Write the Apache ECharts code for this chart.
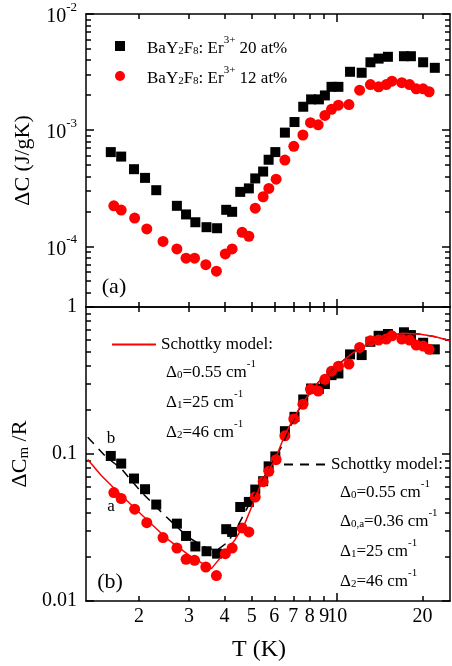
<!DOCTYPE html>
<html>
<head>
<meta charset="utf-8">
<script src="https://cdn.jsdelivr.net/npm/echarts@6/dist/echarts.min.js"></script>
<style>
  html, body { margin: 0; padding: 0; background: #fff; }
  #chart { width: 452px; height: 666px; }
</style>
</head>
<body>
<div id="chart"></div>
<script>
// Excess heat capacity of BaY2F8:Er3+ crystals, (a) per gram, (b) molar, with Schottky fits

// Temperatures (K), 20 at% sample
const T20 = [1.59, 1.73, 1.92, 2.10, 2.30, 2.72, 2.93, 3.16, 3.46, 3.77, 4.06, 4.26, 4.55, 4.88, 5.14, 5.48, 5.73, 6.05,
  6.54, 7.07, 7.59, 8.09, 8.62, 9.05, 9.55, 10.1, 11.1, 12.2, 13.1, 14.0, 15.1, 17.2, 18.2, 20.1, 22.1];
// ΔC (J/gK), 20 at%
const dC20 = [6.47e-4, 5.92e-4, 4.61e-4, 3.88e-4, 3.04e-4, 2.23e-4, 1.88e-4, 1.61e-4, 1.46e-4, 1.43e-4, 2.06e-4, 1.98e-4,
  2.94e-4, 3.15e-4, 3.84e-4, 4.40e-4, 5.56e-4, 6.47e-4, 9.52e-4, 1.174e-3, 1.59e-3, 1.84e-3, 1.84e-3, 1.99e-3, 2.36e-3,
  2.36e-3, 3.18e-3, 3.12e-3, 3.84e-3, 4.13e-3, 4.28e-3, 4.33e-3, 4.33e-3, 3.84e-3, 3.44e-3];
// ΔCm/R, 20 at%
const dCm20 = [0.0970, 0.0861, 0.0681, 0.0576, 0.0453, 0.0336, 0.0277, 0.0235, 0.0218, 0.0210, 0.0308, 0.0295, 0.0436,
  0.0472, 0.0573, 0.0653, 0.0824, 0.0963, 0.143, 0.179, 0.235, 0.279, 0.278, 0.299, 0.344, 0.353, 0.476, 0.471, 0.580,
  0.637, 0.655, 0.673, 0.644, 0.571, 0.515];

// Temperatures (K), 12 at% sample
const T12 = [1.63, 1.73, 1.93, 2.13, 2.43, 2.72, 2.93, 3.14, 3.44, 3.75, 4.03, 4.26, 4.62, 4.88, 5.14, 5.48, 5.74, 6.09,
  6.54, 7.03, 7.57, 8.05, 8.57, 9.05, 9.55, 10.1, 11.0, 12.0, 13.1, 14.0, 14.9, 15.6, 16.9, 18.0, 19.0, 20.1, 21.1];
// ΔC (J/gK), 12 at%
const dC12 = [2.23e-4, 2.05e-4, 1.75e-4, 1.41e-4, 1.10e-4, 9.48e-5, 7.89e-5, 7.89e-5, 6.95e-5, 6.10e-5, 8.59e-5, 9.48e-5,
  1.32e-4, 1.22e-4, 2.13e-4, 2.67e-4, 3.15e-4, 3.78e-4, 5.53e-4, 7.26e-4, 9.08e-4, 1.16e-3, 1.11e-3, 1.34e-3, 1.51e-3,
  1.64e-3, 1.66e-3, 2.21e-3, 2.47e-3, 2.36e-3, 2.47e-3, 2.64e-3, 2.56e-3, 2.47e-3, 2.27e-3, 2.27e-3, 2.14e-3];
// ΔCm/R, 12 at%
const dCm12 = [0.0547, 0.0498, 0.0421, 0.0341, 0.0270, 0.0229, 0.0192, 0.0189, 0.0170, 0.0149, 0.0210, 0.0229, 0.0314,
  0.0295, 0.0510, 0.0648, 0.0763, 0.0915, 0.133, 0.173, 0.218, 0.276, 0.268, 0.322, 0.366, 0.396, 0.409, 0.531, 0.589,
  0.596, 0.605, 0.637, 0.605, 0.596, 0.551, 0.542, 0.515];

// Schottky model curve a (solid red)
const fitAT = [1.318, 1.469, 1.66, 2.0, 2.5, 3.0, 3.3, 3.6, 4.35, 4.72, 5.05, 5.40, 6.03, 6.57, 7.52, 8.62, 9.86, 11.3,
  12.95, 14.82, 16.97, 19.44, 22.2, 25];
const fitAV = [0.0918, 0.0717, 0.0567, 0.0402, 0.0267, 0.0205, 0.0183, 0.0166, 0.0259, 0.0336, 0.0461, 0.0635, 0.0914,
  0.138, 0.221, 0.310, 0.392, 0.484, 0.566, 0.628, 0.662, 0.655, 0.628, 0.590];
// Schottky model curve b (dashed black)
const fitBT = [1.318, 1.53, 1.729, 2.035, 2.461, 2.976, 3.408, 3.74, 4.12, 4.47, 4.98, 5.70, 6.36, 6.9, 7.52, 8.62, 9.86,
  11.3, 12.95, 14.82, 16.97, 19.44, 22.2, 25];
const fitBV = [0.130, 0.0955, 0.0797, 0.0552, 0.0383, 0.0272, 0.0233, 0.0220, 0.0252, 0.0327, 0.0485, 0.0776, 0.1117,
  0.160, 0.221, 0.310, 0.392, 0.484, 0.566, 0.628, 0.662, 0.655, 0.628, 0.590];

// Axis ticks and labels
const X_MIN = 1.3, X_MAX = 25;
const xMajorTicks = [10];
const xMinorTicks = [2, 3, 4, 5, 6, 7, 8, 9, 20];
const xTickLabels = [2, 3, 4, 5, 6, 7, 8, 9, 10, 20];
const yaMin = 3e-5, yaMax = 1e-2;
const yaMajorTicks = [1e-4, 1e-3, 1e-2];
const yaMinorTicks = [4e-5, 5e-5, 6e-5, 7e-5, 8e-5, 9e-5, 2e-4, 3e-4, 4e-4, 5e-4, 6e-4, 7e-4, 8e-4, 9e-4,
  2e-3, 3e-3, 4e-3, 5e-3, 6e-3, 7e-3, 8e-3, 9e-3];
const ybMin = 0.01, ybMax = 1;
const ybMajorTicks = [0.01, 0.1, 1];
const ybMinorTicks = [0.02, 0.03, 0.04, 0.05, 0.06, 0.07, 0.08, 0.09, 0.2, 0.3, 0.4, 0.5, 0.6, 0.7, 0.8, 0.9];

const NAME20 = 'BaY2F8: Er3+ 20 at%';
const NAME12 = 'BaY2F8: Er3+ 12 at%';
const NAME_FIT_A = 'Schottky model a';
const NAME_FIT_B = 'Schottky model b';

const FONT = '"Liberation Serif", "Times New Roman", serif';
const RED = '#ff0000';
const zip = (xs, ys) => xs.map((x, i) => [x, ys[i]]);

const richText = {
  gap: { width: 17, fontSize: 17, lineHeight: 22 },
  n: { fontFamily: FONT, fontSize: 17, lineHeight: 22, color: '#000', verticalAlign: 'bottom' },
  sub: { fontFamily: FONT, fontSize: 11, lineHeight: 11, color: '#000', verticalAlign: 'bottom' },
  sup: { fontFamily: FONT, fontSize: 11, lineHeight: 11, color: '#000', verticalAlign: 'top' }
};

function logAxis(grid, position, min, max, ticks, len, extra) {
  return Object.assign({
    type: 'log', logBase: 10, gridIndex: grid, position: position, min: min, max: max,
    splitLine: { show: false },
    axisLine: { show: true, onZero: false, lineStyle: { color: '#000', width: 1.5 } },
    axisTick: { show: true, inside: true, length: len, customValues: ticks, lineStyle: { color: '#000', width: 1.5 } },
    axisLabel: { show: false },
    silent: true
  }, extra || {});
}
const noLine = { axisLine: { show: false } };

const xAxes = [
  logAxis(0, 'bottom', X_MIN, X_MAX, xMajorTicks, 8),
  logAxis(0, 'bottom', X_MIN, X_MAX, xMinorTicks, 5, noLine),
  logAxis(0, 'top', X_MIN, X_MAX, xMajorTicks, 8),
  logAxis(0, 'top', X_MIN, X_MAX, xMinorTicks, 5, noLine),
  logAxis(1, 'bottom', X_MIN, X_MAX, xMajorTicks, 8, {
    name: 'T (K)', nameLocation: 'middle', nameGap: 37,
    nameTextStyle: { fontFamily: FONT, fontSize: 24, color: '#000', padding: [0, 18, 0, 0] },
    axisLabel: {
      show: true, customValues: xTickLabels, margin: 6, fontFamily: FONT, fontSize: 20, color: '#000',
      formatter: v => String(Math.round(v))
    }
  }),
  logAxis(1, 'bottom', X_MIN, X_MAX, xMinorTicks, 5, noLine),
  logAxis(1, 'top', X_MIN, X_MAX, xMajorTicks, 8),
  logAxis(1, 'top', X_MIN, X_MAX, xMinorTicks, 5, noLine)
];

const powLabelRich = {
  b: { fontFamily: FONT, fontSize: 20, lineHeight: 26, color: '#000', verticalAlign: 'bottom' },
  s: { fontFamily: FONT, fontSize: 13, lineHeight: 13, color: '#000', verticalAlign: 'top' }
};

const yAxes = [
  logAxis(0, 'left', yaMin, yaMax, yaMajorTicks, 8, {
    name: 'ΔC (J/gK)', nameLocation: 'middle', nameGap: 52, nameRotate: 90,
    nameTextStyle: { fontFamily: FONT, fontSize: 22, color: '#000' },
    axisLabel: {
      show: true, customValues: yaMajorTicks, margin: 9, rich: powLabelRich,
      formatter: v => '{b|10}{s|' + Math.round(Math.log10(v)) + '}'
    }
  }),
  logAxis(0, 'left', yaMin, yaMax, yaMinorTicks, 5, noLine),
  logAxis(0, 'right', yaMin, yaMax, yaMajorTicks, 8),
  logAxis(0, 'right', yaMin, yaMax, yaMinorTicks, 5, noLine),
  logAxis(1, 'left', ybMin, ybMax, ybMajorTicks, 8, {
    name: '{n|ΔC}{m|m}{n| /R}', nameLocation: 'middle', nameGap: 52, nameRotate: 90,
    nameTextStyle: {
      rich: {
        n: { fontFamily: FONT, fontSize: 22, lineHeight: 30, color: '#000', verticalAlign: 'bottom' },
        m: { fontFamily: FONT, fontSize: 15, lineHeight: 15, color: '#000', verticalAlign: 'bottom' }
      }
    },
    axisLabel: {
      show: true, customValues: ybMajorTicks, margin: 9, fontFamily: FONT, fontSize: 20, color: '#000',
      formatter: v => (v > 0.5 ? '1' : v > 0.05 ? '0.1' : '0.01')
    }
  }),
  logAxis(1, 'left', ybMin, ybMax, ybMinorTicks, 5, noLine),
  logAxis(1, 'right', ybMin, ybMax, ybMajorTicks, 8),
  logAxis(1, 'right', ybMin, ybMax, ybMinorTicks, 5, noLine)
];

const sampleLabel = name => {
  const conc = name === NAME20 ? '20' : '12';
  return '{gap| }{n|BaY}{sub|2}{n|F}{sub|8}{n|: Er}{sup|3+}{n| ' + conc + ' at%}';
};

const paramText = (x, y, txt) => ({
  type: 'text', x: x, y: y, silent: true,
  style: { text: txt, rich: richText, fill: '#000', verticalAlign: 'middle', textVerticalAlign: 'middle' }
});
const plainText = (x, y, txt, size) => ({
  type: 'text', x: x, y: y, silent: true,
  style: { text: txt, fill: '#000', font: size + 'px ' + FONT, align: 'center', textAlign: 'center',
    verticalAlign: 'middle', textVerticalAlign: 'middle' }
});

// model-curve legend entries show only the line stroke
const modelLegend = (name, left, top, width) => ({
  data: [{ name: name, itemStyle: { opacity: 0 } }],
  left: left, top: top, itemWidth: width, itemHeight: 14, selectedMode: false,
  formatter: () => 'Schottky model:', textStyle: { fontFamily: FONT, fontSize: 17, color: '#000' }
});

const option = {
  animation: false,
  backgroundColor: '#fff',
  grid: [
    { left: 86, top: 14, width: 364, height: 293 },
    { left: 86, top: 307, width: 364, height: 294 }
  ],
  xAxis: xAxes,
  yAxis: yAxes,
  legend: [
    {
      data: [{ name: NAME20, icon: 'rect' }, { name: NAME12, icon: 'circle' }],
      orient: 'vertical', left: 110, top: 30,
      itemWidth: 10, itemHeight: 10, itemGap: 8, selectedMode: false,
      formatter: sampleLabel, textStyle: { rich: richText }
    },
    modelLegend(NAME_FIT_A, 106, 331, 44),
    modelLegend(NAME_FIT_B, 278, 451, 42)
  ],
  graphic: [
    plainText(114, 287, '(a)', 22),
    plainText(110, 582, '(b)', 22),
    plainText(111, 439, 'b', 17),
    plainText(111, 507, 'a', 17),
    paramText(166, 370, '{n|Δ}{sub|0}{n|=0.55 cm}{sup|-1}'),
    paramText(166, 400, '{n|Δ}{sub|1}{n|=25 cm}{sup|-1}'),
    paramText(166, 430, '{n|Δ}{sub|2}{n|=46 cm}{sup|-1}'),
    paramText(340, 490, '{n|Δ}{sub|0}{n|=0.55 cm}{sup|-1}'),
    paramText(340, 519, '{n|Δ}{sub|0,a}{n|=0.36 cm}{sup|-1}'),
    paramText(340, 549, '{n|Δ}{sub|1}{n|=25 cm}{sup|-1}'),
    paramText(340, 579, '{n|Δ}{sub|2}{n|=46 cm}{sup|-1}')
  ],
  series: [
    // panel (a)
    { type: 'scatter', name: NAME20, xAxisIndex: 0, yAxisIndex: 0, data: zip(T20, dC20),
      symbol: 'rect', symbolSize: 10, itemStyle: { color: '#000', opacity: 1 }, z: 3 },
    { type: 'scatter', name: NAME12, xAxisIndex: 0, yAxisIndex: 0, data: zip(T12, dC12),
      symbol: 'circle', symbolSize: 11, itemStyle: { color: RED, opacity: 1 }, z: 4 },
    // panel (b)
    { type: 'scatter', name: NAME20, xAxisIndex: 4, yAxisIndex: 4, data: zip(T20, dCm20),
      symbol: 'rect', symbolSize: 10, itemStyle: { color: '#000', opacity: 1 }, z: 3 },
    { type: 'scatter', name: NAME12, xAxisIndex: 4, yAxisIndex: 4, data: zip(T12, dCm12),
      symbol: 'circle', symbolSize: 11, itemStyle: { color: RED, opacity: 1 }, z: 4 },
    { type: 'line', name: NAME_FIT_B, xAxisIndex: 4, yAxisIndex: 4, data: zip(fitBT, fitBV),
      symbol: 'none', lineStyle: { color: '#000', width: 1.5, type: [9, 7] }, itemStyle: { color: '#000' }, z: 5 },
    { type: 'line', name: NAME_FIT_A, xAxisIndex: 4, yAxisIndex: 4, data: zip(fitAT, fitAV),
      symbol: 'none', lineStyle: { color: RED, width: 1.5 }, itemStyle: { color: RED }, z: 6 }
  ]
};

const chart = echarts.init(document.getElementById('chart'), null, { renderer: 'canvas' });
chart.setOption(option);
</script>
</body>
</html>
